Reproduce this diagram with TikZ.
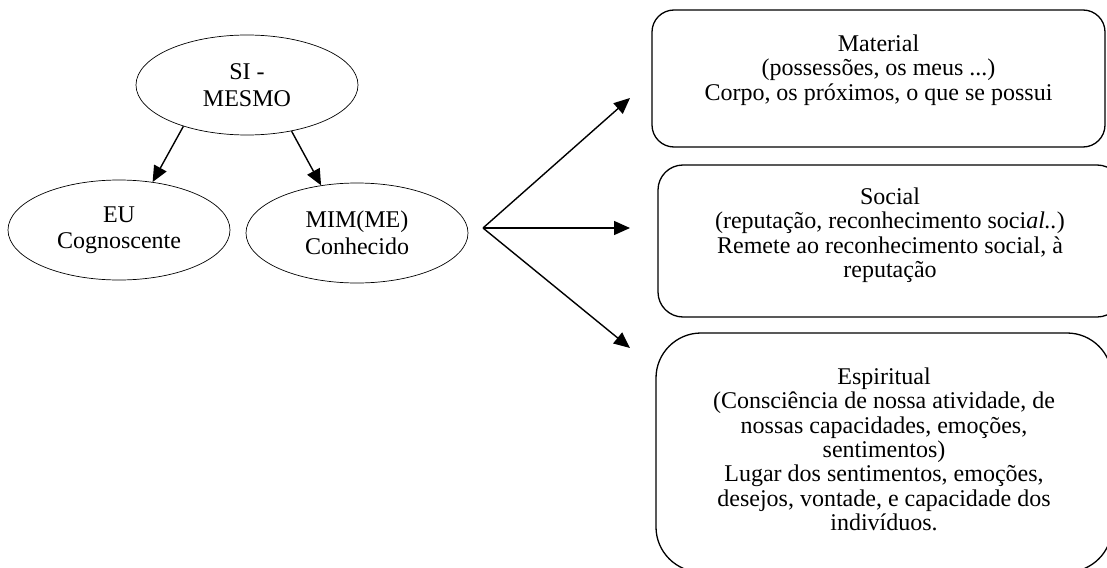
\documentclass[tikz,border=0pt]{standalone}
\usepackage{fontspec}
\setmainfont{Liberation Serif}
\usetikzlibrary{shapes.geometric,arrows.meta,positioning}

\begin{document}
\begin{tikzpicture}[x=1pt,y=1pt]
\tikzstyle{every node}+=[inner sep=0pt, font=\fontsize{24}{24.4}\selectfont]
\tikzstyle{elli}=[draw, ellipse, line width=0.7pt, minimum width=222pt, minimum height=100pt, align=center, font=\fontsize{24}{26.5}\selectfont]
\tikzstyle{rbox}=[draw, line width=1.3pt]
\tikzstyle{btext}=[align=center]
\tikzstyle{arr}=[line width=1.4pt, -{Triangle[length=16pt,width=14pt]}]
\useasboundingbox (0,0) rectangle (1107,-567);
% ellipses
\node [elli] (si) at (247,-85) {SI -\\MESMO};
\node [elli] (eu) at (119,-230) {EU\\Cognoscente};
\node [elli] (mim) at (357,-233) {MIM(ME)\\Conhecido};
\draw [arr] (si.213) -- (eu.55);
\draw [arr] (si.314) -- (mim.127);
% boxes
\node [rbox, rounded corners=22pt, minimum width=453pt, minimum height=137pt] (mat) at (878.5,-78.5) {};
\node [btext, below=25pt of mat.north] (mattext) {Material\\(possessões, os meus ...)\\Corpo, os próximos, o que se possui};
\node [rbox, rounded corners=25pt, minimum width=464pt, minimum height=152pt] (soc) at (890,-241) {};
\node [btext, below=23pt of soc.north] (soctext) {Social\\(reputação, reconhecimento soci\textit{al..})\\Remete ao reconhecimento social, à\\reputação};
\node [rbox, rounded corners=45pt, minimum width=456pt, minimum height=239pt] (esp) at (884,-452.5) {};
\node [btext, below=35pt of esp.north] (esptext) {Espiritual\\(Consciência de nossa atividade, de\\nossas capacidades, emoções,\\sentimentos)\\Lugar dos sentimentos, emoções,\\desejos, vontade, e capacidade dos\\indivíduos.};
% branch
\coordinate (br) at (483,-228);
\coordinate (t1) at (630,-98);
\coordinate (t2) at (630,-228);
\coordinate (t3) at (630,-348);
\foreach \t in {t1,t2,t3}
  \draw [arr] (br) -- (\t);
\end{tikzpicture}
\end{document}
